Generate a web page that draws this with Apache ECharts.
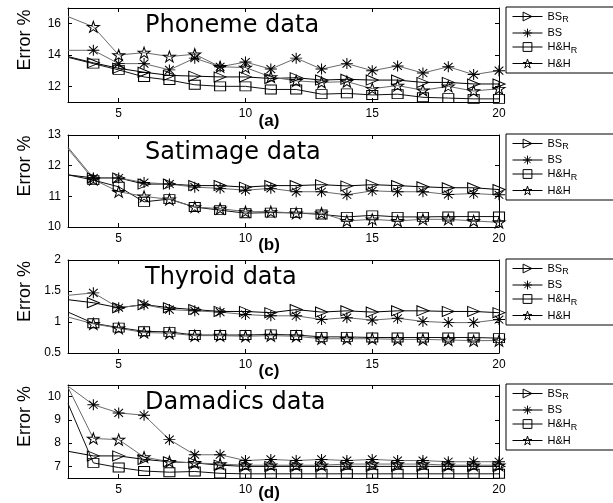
<!DOCTYPE html>
<html><head><meta charset="utf-8">
<script src="https://cdn.jsdelivr.net/npm/echarts@6/dist/echarts.min.js"></script>
<style>html,body{margin:0;padding:0;background:#fff}#c{width:613px;height:503px}</style>
</head><body><div id="c"></div>
<script>
// ---------- data ----------
const xValues = [3,4,5,6,7,8,9,10,11,12,13,14,15,16,17,18,19,20];
const xTicks = [5,10,15,20];
const seriesNames = ['BS_R','BS','H&H_R','H&H'];
const panelTitles = ['Phoneme data','Satimage data','Thyroid data','Damadics data'];
const panelLetters = ['(a)','(b)','(c)','(d)'];
const yTicksA = [12,14,16];
const yTicksB = [10,11,12,13];
const yTicksC = [0.5,1,1.5,2];
const yTicksD = [7,8,9,10];

const phonemeBSR = [13.9,13.5,13.15,12.9,12.7,12.65,12.6,12.6,12.5,12.55,12.4,12.45,12.4,12.4,12.25,12.25,12.15,12.15];
const phonemeBS  = [14.3,14.3,13.45,13.45,13.05,13.8,13.25,13.55,13.1,13.8,13.1,13.45,13.0,13.3,12.85,13.25,12.75,13.0];
const phonemeHHR = [13.85,13.45,13.05,12.6,12.4,12.1,12.0,12.0,11.8,11.8,11.5,11.55,11.45,11.5,11.3,11.25,11.2,11.2];
const phonemeHH  = [16.45,15.8,14.0,14.15,13.9,14.05,13.25,13.2,12.6,12.35,12.25,12.3,11.85,12.05,11.75,12.0,11.7,11.85];

const satimageBSR = [11.7,11.6,11.6,11.4,11.4,11.35,11.35,11.3,11.35,11.35,11.38,11.34,11.38,11.35,11.31,11.28,11.28,11.22];
const satimageBS  = [12.6,11.6,11.6,11.45,11.4,11.3,11.26,11.2,11.26,11.15,11.15,11.05,11.18,11.15,11.15,11.06,11.09,11.05];
const satimageHHR = [11.7,11.53,11.31,10.82,10.91,10.65,10.55,10.45,10.47,10.46,10.41,10.33,10.38,10.33,10.33,10.34,10.34,10.34];
const satimageHH  = [12.55,11.55,11.15,11.0,10.9,10.65,10.6,10.5,10.5,10.45,10.45,10.2,10.25,10.2,10.25,10.25,10.2,10.15];

const thyroidBSR = [1.36,1.31,1.23,1.28,1.23,1.2,1.17,1.17,1.15,1.2,1.16,1.18,1.16,1.18,1.18,1.17,1.17,1.15];
const thyroidBS  = [1.43,1.47,1.23,1.28,1.2,1.18,1.16,1.12,1.1,1.1,1.04,1.07,1.03,1.06,1.01,0.99,0.99,1.04];
const thyroidHHR = [1.16,0.98,0.91,0.85,0.84,0.79,0.79,0.79,0.8,0.79,0.76,0.76,0.75,0.75,0.75,0.75,0.75,0.74];
const thyroidHH  = [1.08,0.97,0.9,0.83,0.82,0.78,0.78,0.77,0.78,0.77,0.73,0.73,0.73,0.72,0.72,0.71,0.7,0.7];

const damadicsBSR = [7.65,7.45,7.45,7.3,7.2,7.15,7.05,7.0,7.0,7.0,7.0,7.0,7.0,7.0,7.0,7.0,7.0,7.0];
const damadicsBS  = [10.45,9.65,9.3,9.2,8.15,7.5,7.5,7.25,7.3,7.25,7.3,7.25,7.3,7.25,7.25,7.2,7.2,7.2];
const damadicsHHR = [9.7,7.15,6.95,6.8,6.75,6.78,6.7,6.68,6.68,6.68,6.68,6.68,6.68,6.68,6.68,6.68,6.68,6.68];
const damadicsHH  = [10.4,8.2,8.15,7.4,7.2,7.15,7.1,7.05,7.05,7.05,7.05,7.1,7.1,7.1,7.1,7.05,7.05,7.05];

// ---------- layout / style ----------
const panels = [
  {top:8,   height:94, yMin:11,  yMax:17,   ticks:yTicksA, letterDy:19, data:[phonemeBSR,phonemeBS,phonemeHHR,phonemeHH]},
  {top:135, height:92, yMin:10,  yMax:13,   ticks:yTicksB, letterDy:18, data:[satimageBSR,satimageBS,satimageHHR,satimageHH]},
  {top:260, height:93, yMin:0.5, yMax:2,    ticks:yTicksC, letterDy:18, data:[thyroidBSR,thyroidBS,thyroidHHR,thyroidHH]},
  {top:385, height:93, yMin:6.5, yMax:10.5, ticks:yTicksD, letterDy:15, data:[damadicsBSR,damadicsBS,damadicsHHR,damadicsHH]}
];
const LEFT = 68, RIGHT_EDGE = 499;
const FONT = 'Liberation Sans, Arial, sans-serif';

const STAR = 'path://M0,-1L0.2245,-0.309L0.951,-0.309L0.3633,0.118L0.5878,0.809L0,0.382L-0.5878,0.809L-0.3633,0.118L-0.951,-0.309L-0.2245,-0.309Z';
const ASTER = 'path://M0,-1L0,1M-1,0L1,0M-0.72,-0.72L0.72,0.72M-0.72,0.72L0.72,-0.72';
const seriesStyles = [
  {symbol:'triangle', symbolSize:[10,12], symbolRotate:-90, line:'#000'},
  {symbol:ASTER, symbolSize:[12,11], symbolRotate:0, line:'#6a6a6a'},
  {symbol:'rect', symbolSize:[11,9], symbolRotate:0, line:'#111'},
  {symbol:STAR, symbolSize:[12,11], symbolRotate:0, line:'#6a6a6a'}
];

const grid = [], xAxis = [], yAxis = [], series = [], legend = [], graphic = [];
const axisLineStyle = {show:true, onZero:false, lineStyle:{color:'#000', width:1}};

panels.forEach((p, i) => {
  grid.push({left:LEFT, width:RIGHT_EDGE-LEFT, top:p.top, height:p.height});
  xAxis.push({gridIndex:i, type:'value', min:3, max:20, position:'bottom',
    axisLine:axisLineStyle,
    axisTick:{show:true, inside:true, length:4, customValues:xTicks, lineStyle:{color:'#000'}},
    axisLabel:{show:true, customValues:xTicks, color:'#000', fontSize:12, fontFamily:FONT, margin:6},
    splitLine:{show:false}});
  xAxis.push({gridIndex:i, type:'value', min:3, max:20, position:'top',
    axisLine:axisLineStyle,
    axisTick:{show:true, inside:true, length:4, customValues:xTicks, lineStyle:{color:'#000'}},
    axisLabel:{show:false}, splitLine:{show:false}});
  yAxis.push({gridIndex:i, type:'value', min:p.yMin, max:p.yMax, position:'left',
    axisLine:axisLineStyle,
    axisTick:{show:true, inside:true, length:4, customValues:p.ticks, lineStyle:{color:'#000'}},
    axisLabel:{show:true, customValues:p.ticks, color:'#000', fontSize:12, fontFamily:FONT, margin:7},
    splitLine:{show:false}});
  yAxis.push({gridIndex:i, type:'value', min:p.yMin, max:p.yMax, position:'right',
    axisLine:axisLineStyle,
    axisTick:{show:true, inside:true, length:4, customValues:p.ticks, lineStyle:{color:'#000'}},
    axisLabel:{show:false}, splitLine:{show:false}});

  seriesNames.forEach((name, s) => {
    const st = seriesStyles[s];
    const vals = p.data[s];
    series.push({
      type:'line', name:name, xAxisIndex:2*i, yAxisIndex:2*i,
      data: xValues.map((x, k) => k === 0 ? {value:[x, vals[k]], symbol:'none'} : [x, vals[k]]),
      symbol:st.symbol, symbolSize:st.symbolSize, symbolRotate:st.symbolRotate,
      showAllSymbol:true, silent:true, animation:false,
      lineStyle:{color:st.line, width:1},
      itemStyle:{color:'rgba(255,255,255,0)', borderColor:'#000', borderWidth:1},
      emphasis:{disabled:true}
    });
  });

  legend.push({
    orient:'vertical', left:506, top:p.top - 1, data:seriesNames, selectedMode:false,
    borderColor:'#000', borderWidth:1, backgroundColor:'#fff',
    padding:[4, 40, 4, 6], itemGap:3, itemWidth:30, itemHeight:11,
    itemStyle:{color:'rgba(255,255,255,0)', borderColor:'#000', borderWidth:1},
    lineStyle:{color:'#000', width:1},
    formatter: n => n.replace('_R', '{sub|R}'),
    textStyle:{color:'#000', fontSize:11, fontFamily:FONT,
      rich:{sub:{fontSize:9, fontFamily:FONT, color:'#000', padding:[7,0,0,0]}}}
  });

  graphic.push({type:'text', left:145, top:p.top + 6, silent:true,
    style:{text:panelTitles[i], font:'24px DejaVu Sans, sans-serif', fill:'#000'}});
  graphic.push({type:'text', x:269, y:p.top + p.height + p.letterDy, silent:true,
    style:{text:panelLetters[i], font:'bold 17px ' + FONT, fill:'#000', align:'center', verticalAlign:'middle'}});
  graphic.push({type:'text', x:25, y:p.top + p.height/2 - 15, rotation:Math.PI/2, silent:true,
    style:{text:'Error %', font:'18px ' + FONT, fill:'#000', align:'center', verticalAlign:'middle'}});
});

const chart = echarts.init(document.getElementById('c'), null, {renderer:'canvas'});
chart.setOption({animation:false, backgroundColor:'#fff', grid, xAxis, yAxis, series, legend, graphic});
</script></body></html>
